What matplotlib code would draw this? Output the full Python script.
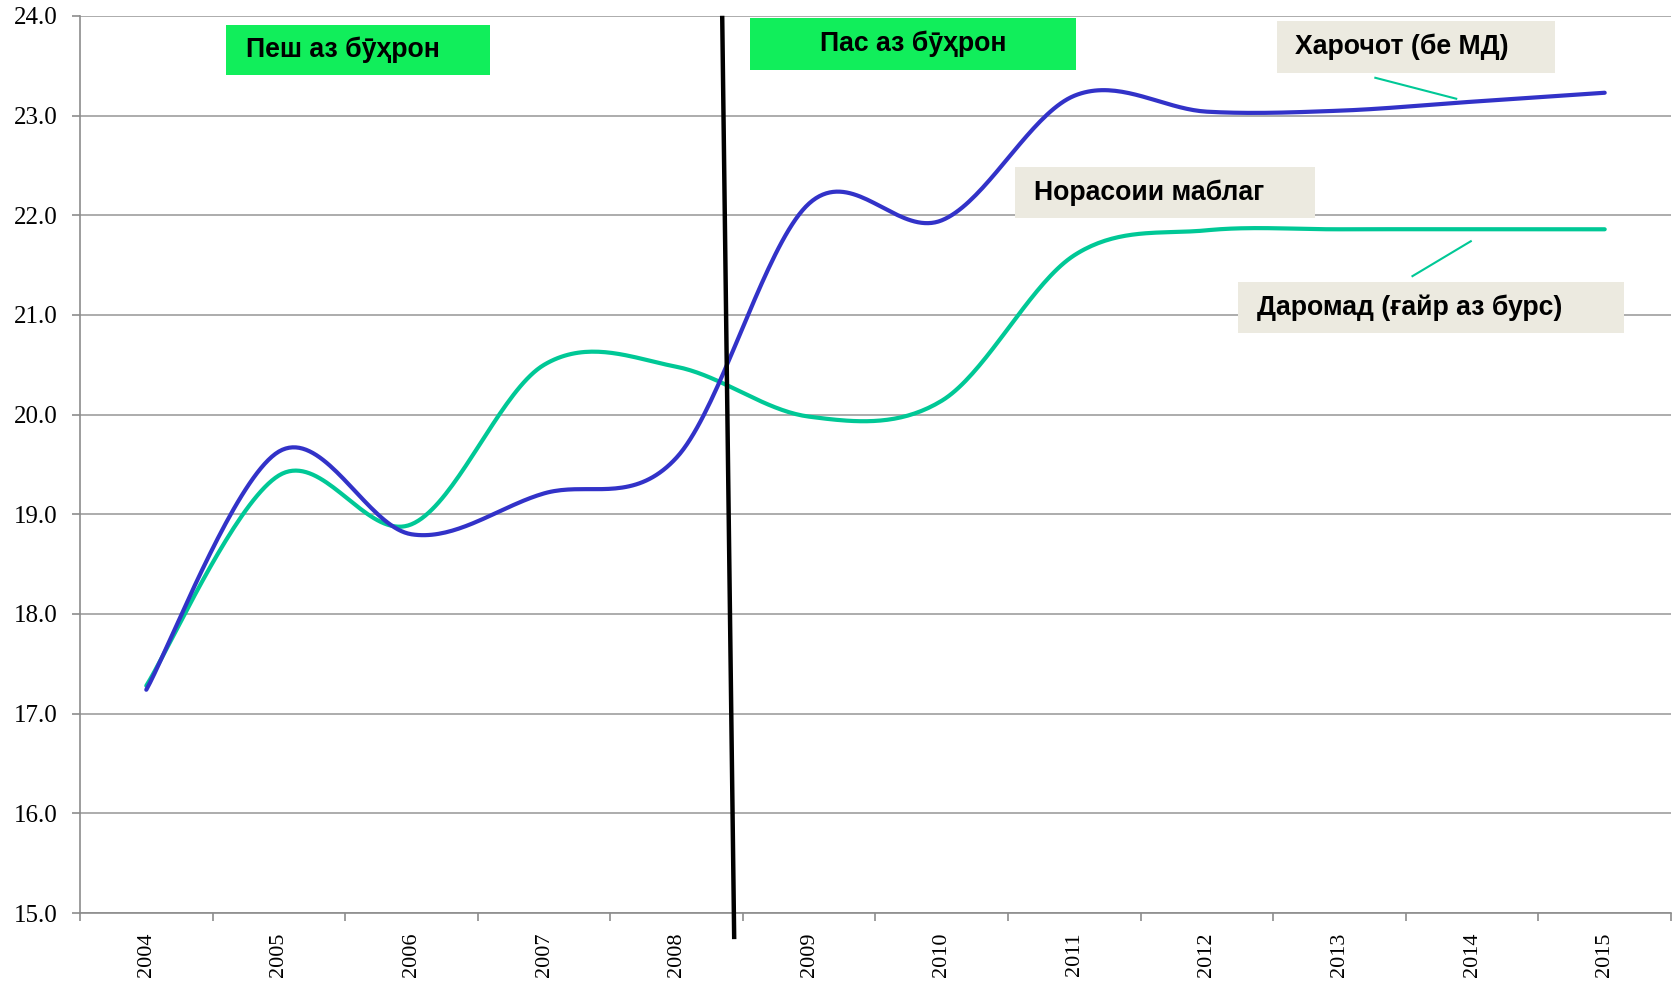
import numpy as np
import matplotlib
matplotlib.use("Agg")
import matplotlib.pyplot as plt
from matplotlib.patches import Rectangle

years = ["2004", "2005", "2006", "2007", "2008", "2009", "2010",
         "2011", "2012", "2013", "2014", "2015"]
expenditure = [17.24, 19.63, 18.80, 19.21, 19.57, 22.12, 21.95,
               23.20, 23.04, 23.05, 23.14, 23.23]
revenue = [17.28, 19.39, 18.90, 20.50, 20.48, 19.98, 20.14,
           21.60, 21.85, 21.86, 21.86, 21.86]
yticks = [15.0, 16.0, 17.0, 18.0, 19.0, 20.0, 21.0, 22.0, 23.0, 24.0]

W, H = 1677, 983
BLUE = "#3232C8"
GREEN = "#00C896"


def smooth(x, y, n=40):
    # excel-style smoothed line (catmull-rom bezier)
    x = np.asarray(x, float)
    y = np.asarray(y, float)
    p = np.column_stack([x, y])
    pts = [p[0]] + list(p) + [p[-1]]
    out = []
    t = np.linspace(0, 1, n)[:, None]
    for i in range(1, len(pts) - 2):
        p0, p1, p2, p3 = pts[i - 1], pts[i], pts[i + 1], pts[i + 2]
        c1 = p1 + (p2 - p0) / 6
        c2 = p2 - (p3 - p1) / 6
        seg = ((1 - t) ** 3) * p1 + 3 * ((1 - t) ** 2) * t * c1 \
            + 3 * (1 - t) * t ** 2 * c2 + t ** 3 * p2
        out.append(seg)
    out = np.vstack(out)
    return out[:, 0], out[:, 1]


fig = plt.figure(figsize=(W / 100, H / 100), dpi=100)
ax = fig.add_axes([80 / W, 70 / H, (1671 - 80) / W, (913 - 16) / H])

idx = np.arange(len(years))
bx, by = smooth(idx, expenditure)
gx, gy = smooth(idx, revenue)
ax.plot(gx, gy, color=GREEN, lw=3.0, solid_capstyle="round", zorder=3)
ax.plot(bx, by, color=BLUE, lw=3.0, solid_capstyle="round", zorder=4)

ax.set_xlim(-0.5, len(years) - 0.5)
ax.set_ylim(15, 24)
ax.set_yticks(yticks)
ax.set_yticklabels([f"{v:.1f}" for v in yticks], family="Liberation Serif",
                   fontsize=18)
ax.set_xticks(idx)
ax.set_xticklabels(years, rotation=90, family="Liberation Serif", fontsize=16)
ax.set_xticks(np.arange(-0.5, len(years)), minor=True)
ax.tick_params(axis="x", which="major", length=0, pad=14)
ax.tick_params(axis="x", which="minor", length=6, color="#8C8C8C", width=1.2)
ax.tick_params(axis="y", length=6, color="#8C8C8C", width=1.2, pad=10)
ax.grid(axis="y", color="#A6A6A6", lw=1.3, zorder=0)
ax.set_axisbelow(True)
for s in ["top", "right"]:
    ax.spines[s].set_visible(False)
for s in ["left", "bottom"]:
    ax.spines[s].set_color("#8C8C8C")
    ax.spines[s].set_linewidth(1.2)

# crisis divider
ax.plot([4.344, 4.434], [23.98, 14.76], color="black", lw=3.2,
        clip_on=False, zorder=6)

# leader lines
ax.plot([9.27, 9.88], [23.38, 23.17], color=GREEN, lw=1.5, zorder=5)
ax.plot([9.55, 9.99], [21.39, 21.74], color=GREEN, lw=1.5, zorder=5)


def label_box(x0, y0, x1, y1, text, color, tx=None, center=False):
    fig.add_artist(Rectangle((x0 / W, 1 - y1 / H), (x1 - x0) / W,
                             (y1 - y0) / H, transform=fig.transFigure,
                             facecolor=color, edgecolor="none", zorder=7))
    yc = 1 - (y0 + y1) / 2 / H
    if center:
        fig.text((x0 + x1) / 2 / W, yc, text, ha="center", va="center",
                 fontsize=19.2, fontweight="bold",
                 family=["Liberation Sans", "DejaVu Sans"], zorder=8)
    else:
        fig.text(tx / W, yc, text, ha="left", va="center",
                 fontsize=19.2, fontweight="bold",
                 family=["Liberation Sans", "DejaVu Sans"], zorder=8)


label_box(226, 25, 490, 75, "Пеш аз бӯҳрон", "#11EE5B", tx=246)
label_box(750, 18, 1076, 70, "Пас аз бӯҳрон", "#11EE5B", center=True)
label_box(1277, 21, 1555, 73, "Харочот (бе МД)", "#ECEAE0", tx=1295)
label_box(1015, 167, 1315, 218, "Норасоии маблаг", "#ECEAE0", tx=1034)
label_box(1238, 282, 1624, 333, "Даромад (ғайр аз бурс)", "#ECEAE0", tx=1257)

fig.savefig("out.png", dpi=100)
